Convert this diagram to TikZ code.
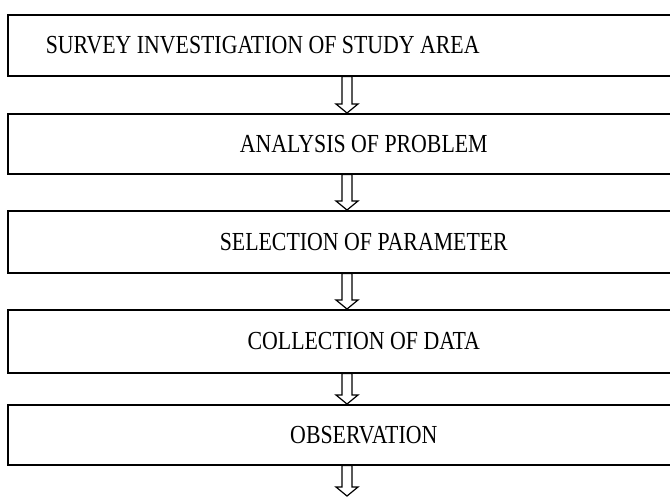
\documentclass[tikz,border=0pt]{standalone}
\usepackage{fontspec}
\setmainfont{Liberation Serif}[FakeStretch=0.84]
\usetikzlibrary{calc}
\tikzset{
  stagebox/.style={rectangle, draw=black, line width=1.6pt, minimum width=712pt, anchor=north west, inner sep=0pt, font=\fontsize{26}{30}\selectfont},
  blockarr/.style={draw=black, line width=1.2pt, fill=white, line join=miter},
}
% hollow block arrow from the bottom of one box to the top of the next
\newcommand{\hollowarrow}[2]{%
  \draw[blockarr] let \p1=(#1), \p2=(#2) in
    (\x1-5pt,\y1) -- (\x1+5pt,\y1) -- (\x1+5pt,\y2+9pt) -- (\x1+11pt,\y2+9pt)
    -- (\x1,\y2) -- (\x1-11pt,\y2+9pt) -- (\x1-5pt,\y2+9pt) -- cycle;}

\begin{document}
\begin{tikzpicture}[x=1pt, y=-1pt]
  \useasboundingbox (0,0) rectangle (670,498);
  \clip (0,0) rectangle (670,498);

  % Stages
  \node[stagebox, minimum height=61pt, inner xsep=38pt] (survey) at (7,14) {\raisebox{-3pt}{\makebox[636pt][l]{SURVEY INVESTIGATION OF STUDY AREA}}};
  \node[stagebox, minimum height=60pt] (analysis) at (7,113) {ANALYSIS OF PROBLEM};
  \node[stagebox, minimum height=62pt] (selection) at (7,210) {SELECTION OF PARAMETER};
  \node[stagebox, minimum height=63pt] (collection) at (7,309) {COLLECTION OF DATA};
  \node[stagebox, minimum height=60pt] (observation) at (7,404) {OBSERVATION};
  \coordinate (next) at (347,496);

  % Arrows
  \hollowarrow{$(survey.south west)+(340,0)$}{$(analysis.north west)+(340,0)$}
  \hollowarrow{$(analysis.south west)+(340,0)$}{$(selection.north west)+(340,0)$}
  \hollowarrow{$(selection.south west)+(340,0)$}{$(collection.north west)+(340,0)$}
  \hollowarrow{$(collection.south west)+(340,0)$}{$(observation.north west)+(340,0)$}
  \hollowarrow{$(observation.south west)+(340,0)$}{next}
\end{tikzpicture}
\end{document}
